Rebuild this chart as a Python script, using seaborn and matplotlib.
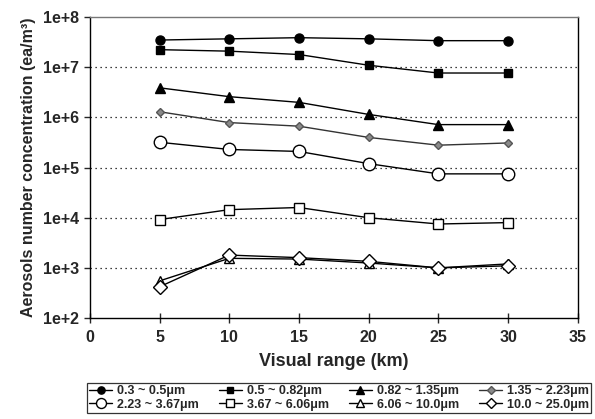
import matplotlib
matplotlib.use("Agg")
import matplotlib.pyplot as plt
import seaborn as sns
import pandas as pd
from matplotlib.lines import Line2D

sns.set_style("white")
plt.rcParams['font.family'] = ['Liberation Sans', 'DejaVu Sans']

visual_range = [5, 10, 15, 20, 25, 30]
labels = ["0.3 ~ 0.5μm", "0.5 ~ 0.82μm", "0.82 ~ 1.35μm", "1.35 ~ 2.23μm",
          "2.23 ~ 3.67μm", "3.67 ~ 6.06μm", "6.06 ~ 10.0μm", "10.0 ~ 25.0μm"]
s_03_05 = [3.5e7, 3.7e7, 3.9e7, 3.7e7, 3.4e7, 3.4e7]
s_05_082 = [2.25e7, 2.1e7, 1.8e7, 1.1e7, 7.7e6, 7.7e6]
s_082_135 = [3.9e6, 2.6e6, 2.0e6, 1.15e6, 7.2e5, 7.2e5]
s_135_223 = [1.3e6, 7.9e5, 6.7e5, 4.0e5, 2.8e5, 3.1e5]
s_223_367 = [3.2e5, 2.3e5, 2.1e5, 1.2e5, 7.5e4, 7.5e4]
s_367_606 = [9.2e3, 1.45e4, 1.6e4, 1.0e4, 7.5e3, 8.0e3]
s_606_100 = [5.5e2, 1.55e3, 1.5e3, 1.25e3, 1.0e3, 1.2e3]
s_100_250 = [4.2e2, 1.8e3, 1.6e3, 1.35e3, 1.0e3, 1.1e3]
series = [s_03_05, s_05_082, s_082_135, s_135_223, s_223_367, s_367_606, s_606_100, s_100_250]

styles = [
    dict(marker="o", ms=6.5, mfc="black", mec="black", color="black"),
    dict(marker="s", ms=6, mfc="black", mec="black", color="black"),
    dict(marker="^", ms=6.5, mfc="black", mec="black", color="black"),
    dict(marker="D", ms=4.5, mfc="#8a8a8a", mec="#555555", color="#333333"),
    dict(marker="o", ms=9, mfc="white", mec="black", color="black"),
    dict(marker="s", ms=7, mfc="white", mec="black", color="black"),
    dict(marker="^", ms=7.5, mfc="white", mec="black", color="black"),
    dict(marker="D", ms=7, mfc="white", mec="black", color="black"),
]

fig = plt.figure(figsize=(5.95, 4.19), dpi=100)
ax = fig.add_axes([0.151, 0.241, 0.82, 0.718])

for lab, vals, st in zip(labels, series, styles):
    df = pd.DataFrame({"x": visual_range, "y": vals})
    sns.lineplot(data=df, x="x", y="y", ax=ax, color=st["color"], linewidth=1.0,
                 marker=st["marker"], markersize=st["ms"], markerfacecolor=st["mfc"],
                 markeredgecolor=st["mec"], markeredgewidth=1.0, legend=False)

ax.set_yscale("log")
ax.set_ylim(1e2, 1e8)
ax.set_xlim(0, 35)
ax.set_xticks([0, 5, 10, 15, 20, 25, 30, 35])
ax.set_yticks([1e2, 1e3, 1e4, 1e5, 1e6, 1e7, 1e8])
ax.set_yticklabels(["1e+2", "1e+3", "1e+4", "1e+5", "1e+6", "1e+7", "1e+8"])
ax.yaxis.set_minor_locator(matplotlib.ticker.NullLocator())
for y in [1e3, 1e4, 1e5, 1e6, 1e7]:
    ax.axhline(y, color="black", linestyle=(0, (1, 3)), linewidth=0.9, zorder=0)

for sp in ax.spines.values():
    sp.set_color("black")
    sp.set_linewidth(1.0)
ax.spines["top"].set_color("#777777")

ax.tick_params(axis="x", direction="inout", length=7, width=1, labelsize=11.5, pad=5, bottom=True)
ax.tick_params(axis="y", direction="out", length=4, width=1, labelsize=11.5, pad=4, left=True)
for t in ax.get_xticklabels() + ax.get_yticklabels():
    t.set_fontweight("bold")

ax.set_xlabel("Visual range (km)", fontsize=13, fontweight="bold", labelpad=6)
ax.set_ylabel("Aerosols number concentration (ea/m³)", fontsize=11.5, fontweight="bold", labelpad=5)

handles = [Line2D([], [], color=st["color"], linewidth=1.0, marker=st["marker"],
                  markersize=st["ms"] * 0.8, markerfacecolor=st["mfc"],
                  markeredgecolor=st["mec"], markeredgewidth=1.0) for st in styles]
order = [0, 4, 1, 5, 2, 6, 3, 7]
leg = fig.legend([handles[i] for i in order], [labels[i] for i in order], ncol=4,
                 loc="lower left", bbox_to_anchor=(0.146, 0.014, 0.848, 0.085), mode="expand",
                 frameon=True, fancybox=False, edgecolor="black", borderpad=0.2,
                 handlelength=1.8, handletextpad=0.4, columnspacing=0.2, labelspacing=0.1,
                 borderaxespad=0.0, prop={"weight": "bold", "size": 9})
leg.get_frame().set_linewidth(0.9)

fig.savefig("out.png", dpi=100)
